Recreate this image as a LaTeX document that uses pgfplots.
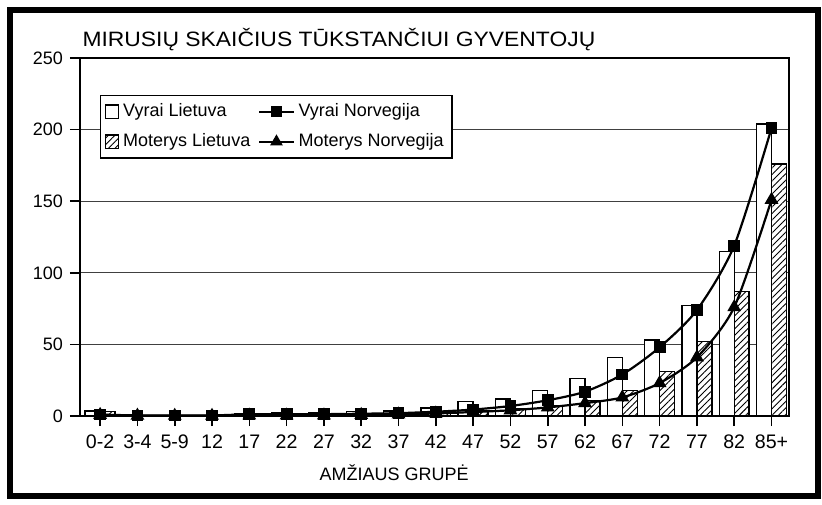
\documentclass[border=0pt]{standalone}
\usepackage{fontspec}
\setmainfont{Liberation Sans}
\usepackage{pgfplots}
\pgfplotsset{compat=1.18}
\usetikzlibrary{patterns.meta}

\newcommand{\lab}{\fontsize{9}{10.5}\selectfont}
\tikzset{hatch/.style={pattern={Lines[angle=45,distance=2.3pt,line width=0.45pt]}}}

\begin{document}
\begin{tikzpicture}
\begin{axis}[
  scale only axis,
  width=354.5pt, height=179pt,
  xmin=-0.54, xmax=18.47,
  ymin=0, ymax=250,
  ytick={0,50,...,250},
  xtick={0,...,18},
  xticklabels={0-2,3-4,5-9,12,17,22,27,32,37,42,47,52,57,62,67,72,77,82,85+},
  xtick pos=lower, ytick pos=left,
  tick align=outside,
  major tick length=5pt,
  tick style={black, line width=0.8pt},
  ymajorgrids, grid style={black!75, line width=0.5pt},
  axis line style={line width=0.8pt},
  yticklabel style={font=\fontsize{9}{10}\selectfont},
  xticklabel style={font=\fontsize{9.8}{11}\selectfont, yshift=-1pt},
  /pgf/number format/assume math mode=true,
  xlabel={AMŽIAUS GRUPĖ},
  xlabel style={at={(rel axis cs:0.443,0)}, anchor=north, yshift=-21pt, font=\lab},
  clip=false,
  legend columns=2,
  legend cell align=left,
  legend style={at={(0.028,0.897)}, anchor=north west, draw=black, line width=0.8pt,
    font=\lab, inner sep=2pt, row sep=3pt,
    /tikz/every even column/.append style={column sep=2pt}},
]
% Vyrai Lietuva
\addplot[ybar, bar width=0.4, bar shift=-0.2, draw=black, line width=0.7pt, fill=white, forget plot] coordinates {
  (0,3.5) (1,0.5) (2,0.4) (3,0.5) (4,1.5) (5,2) (6,2.5) (7,3) (8,3.5) (9,5.5)
  (10,10) (11,12) (12,18) (13,26) (14,41) (15,53) (16,77) (17,115) (18,204)
};
% Moterys Lietuva
\addplot[ybar, bar width=0.4, bar shift=0.2, draw=black, line width=0.7pt, fill=white, postaction={hatch}, forget plot] coordinates {
  (0,3) (1,0.4) (2,0.3) (3,0.3) (4,0.6) (5,0.7) (6,0.9) (7,1.2) (8,1.8) (9,2.5)
  (10,3.5) (11,5) (12,7.5) (13,11) (14,18) (15,31) (16,52) (17,87) (18,176)
};
% Vyrai Norvegija
\addplot[black, line width=1.1pt, smooth, tension=0.45, mark=square*, mark size=2.4pt, forget plot] coordinates {
  (0,1) (1,0.4) (2,0.3) (3,0.4) (4,1.2) (5,1.3) (6,1.3) (7,1.6) (8,2) (9,3)
  (10,4.5) (11,7) (12,11) (13,17) (14,29) (15,48) (16,74) (17,119) (18,201)
};
% Moterys Norvegija
\addplot[black, line width=1.1pt, smooth, tension=0.45, mark=triangle*, mark size=2.9pt, forget plot] coordinates {
  (0,0.8) (1,0.3) (2,0.2) (3,0.2) (4,0.4) (5,0.4) (6,0.5) (7,0.8) (8,1.1) (9,1.8)
  (10,2.8) (11,4) (12,6) (13,9) (14,13) (15,23) (16,41) (17,76) (18,151)
};

\addlegendimage{legend image code/.code={\draw[black, line width=0.7pt, fill=white] (0pt,-3.3pt) rectangle (6.6pt,3.3pt);}}
\addlegendentry{Vyrai Lietuva}
\addlegendimage{black, line width=1.1pt, mark=square*, mark size=2.1pt}
\addlegendentry{Vyrai Norvegija}
\addlegendimage{legend image code/.code={\draw[black, line width=0.7pt, fill=white, postaction={hatch}] (0pt,-3.3pt) rectangle (6.6pt,3.3pt);}}
\addlegendentry{Moterys Lietuva}
\addlegendimage{black, line width=1.1pt, mark=triangle*, mark size=2.6pt}
\addlegendentry{Moterys Norvegija}

\node[anchor=base west, inner sep=0pt] at ([yshift=5.5pt]rel axis cs:0.003,1)
  {\scalebox{1.1}[1]{\fontsize{10.4}{12}\selectfont MIRUSIŲ SKAIČIUS TŪKSTANČIUI GYVENTOJŲ}};

\coordinate (bl) at (rel axis cs:-0.1128,-0.2458);
\coordinate (tr) at (rel axis cs:1.0465,1.162);
\coordinate (fbl) at (rel axis cs:-0.0987,-0.2235);
\coordinate (ftr) at (rel axis cs:1.0409,1.134);
\end{axis}
\pgfresetboundingbox
\path[use as bounding box] (bl) rectangle (tr);
\draw[line width=3pt] (fbl) rectangle (ftr);
\end{tikzpicture}
\end{document}
